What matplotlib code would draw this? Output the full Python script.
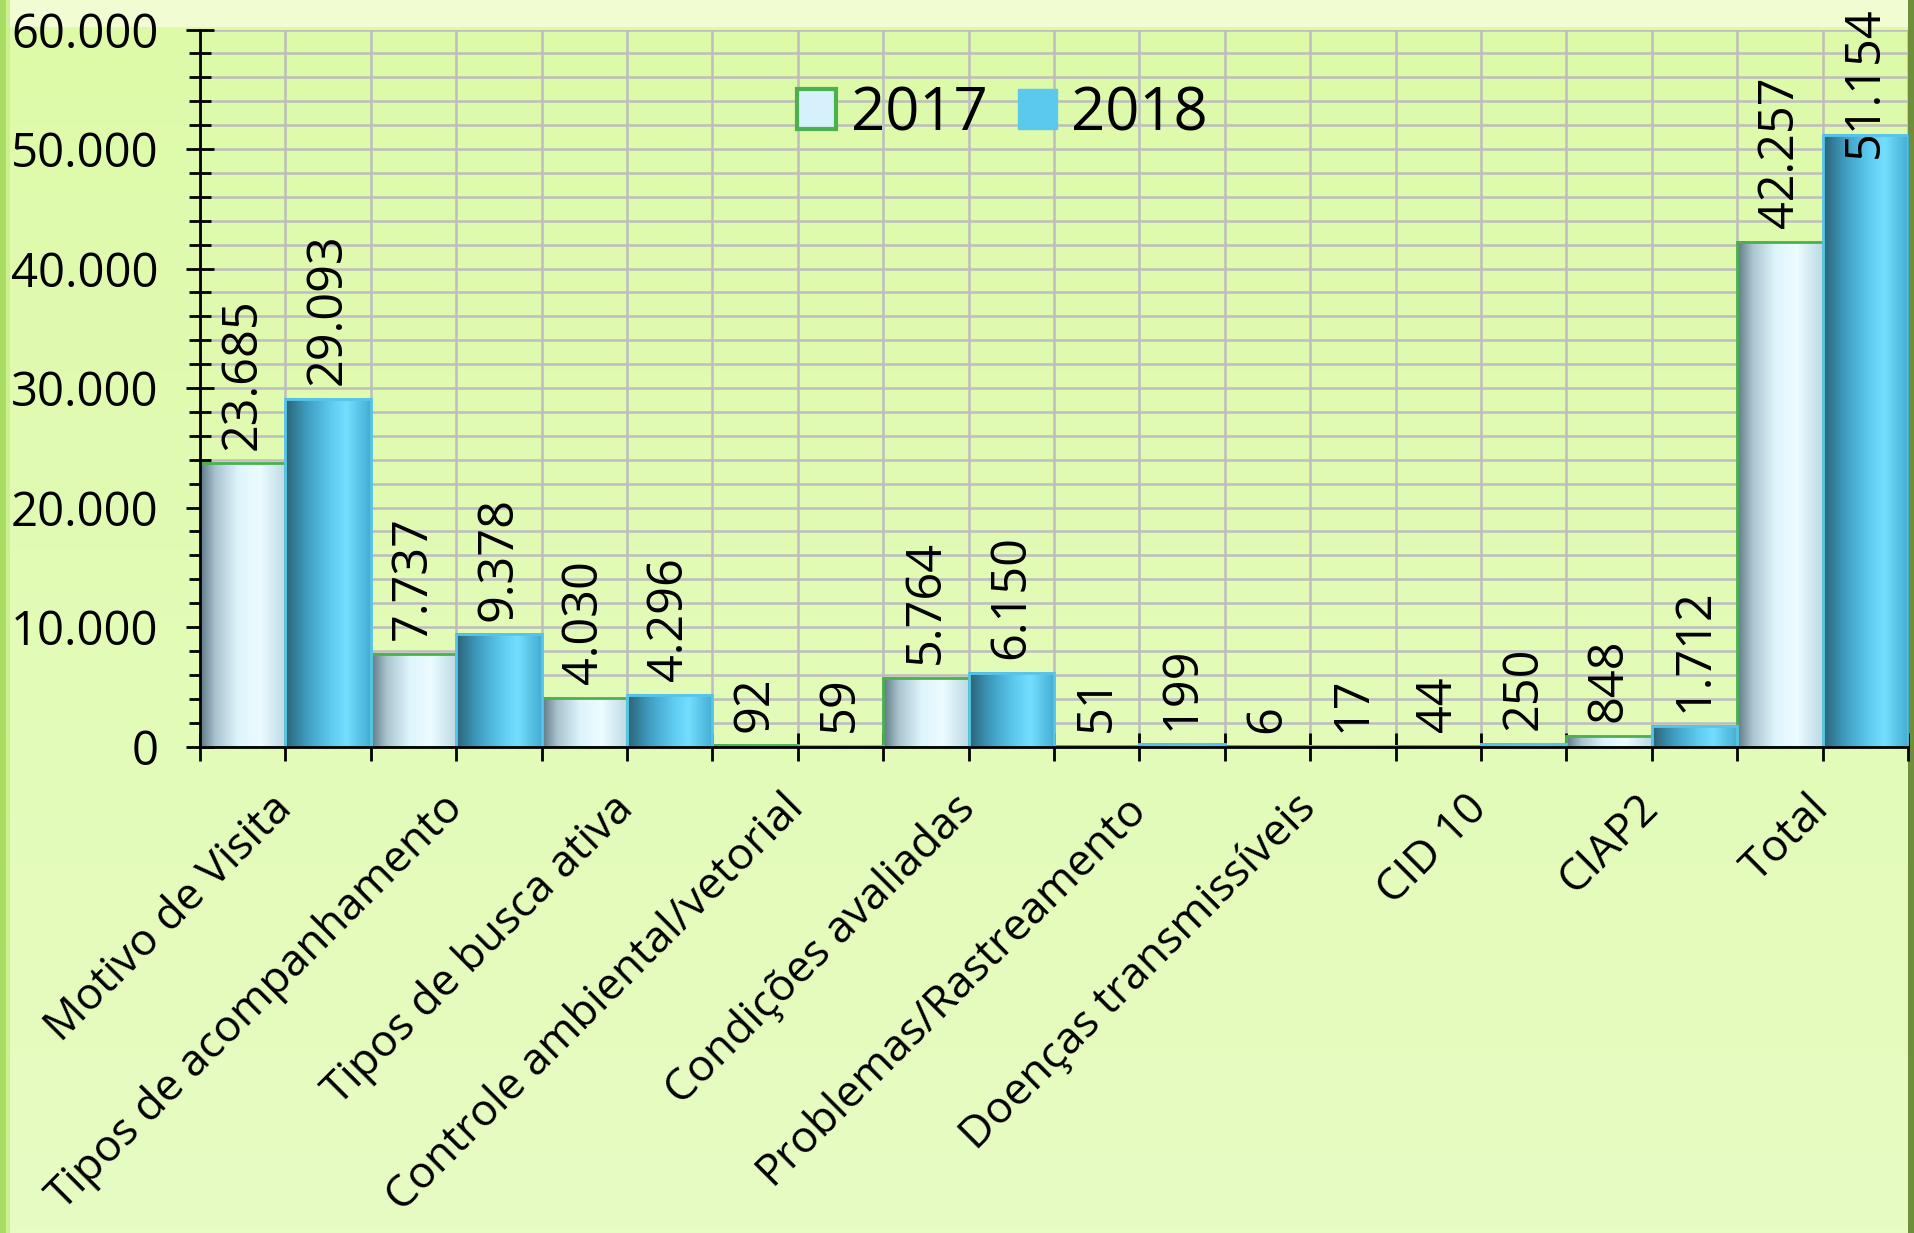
import numpy as np
import matplotlib

matplotlib.use("Agg")
import matplotlib.pyplot as plt
from matplotlib.colors import LinearSegmentedColormap
from matplotlib.patches import Patch, Rectangle

categories = [
    "Motivo de Visita",
    "Tipos de acompanhamento",
    "Tipos de busca ativa",
    "Controle ambiental/vetorial",
    "Condições avaliadas",
    "Problemas/Rastreamento",
    "Doenças transmissíveis",
    "CID 10",
    "CIAP2",
    "Total",
]
values_2017 = [23685, 7737, 4030, 92, 5764, 51, 6, 44, 848, 42257]
values_2018 = [29093, 9378, 4296, 59, 6150, 199, 17, 250, 1712, 51154]
series_names = ["2017", "2018"]

y_max = 60000
y_major = 10000
y_minor = 2000

plt.rcParams["font.family"] = ["Open Sans", "DejaVu Sans"]

cmap_2017 = LinearSegmentedColormap.from_list(
    "c2017",
    [(0.0, "#5d7784"), (0.18, "#a9c4cf"), (0.45, "#def5fc"), (0.7, "#ecfcff"), (1.0, "#bcd9e4")],
)
cmap_2018 = LinearSegmentedColormap.from_list(
    "c2018",
    [(0.0, "#2a6276"), (0.25, "#3f9cc0"), (0.55, "#5fcdf2"), (0.72, "#74defe"), (1.0, "#42acd3")],
)


def fmt(v: float) -> str:
    return f"{int(v):,}".replace(",", ".")


def draw_gradient_bars(ax, xs, vals, cmap, edge):
    grad = np.linspace(0, 1, 256)[np.newaxis, :]
    bars = ax.bar(xs, vals, width=1.0, align="edge", color="none",
                  edgecolor=edge, linewidth=2.0, zorder=4)
    for b in bars:
        x0 = b.get_x()
        h = b.get_height()
        ax.imshow(grad, cmap=cmap, extent=(x0, x0 + 1.0, 0, h),
                  aspect="auto", zorder=3, interpolation="bicubic")
    return bars


fig = plt.figure(figsize=(19.15, 12.33), dpi=100)

# background with a slight vertical gradient and a bevelled frame
bg = fig.add_axes([0, 0, 1, 1], zorder=-10)
bg_cmap = LinearSegmentedColormap.from_list("bg", ["#e7fcc3", "#ddfaa8"])
bg.imshow(np.linspace(0, 1, 256)[:, np.newaxis], cmap=bg_cmap, aspect="auto",
          extent=(0, 1, 0, 1), origin="lower")
bg.add_patch(Rectangle((0, 0.978), 1, 0.022, color="#f1fcd2", lw=0))
bg.add_patch(Rectangle((0, 0), 0.003, 1, color="#a8dc62", lw=0))
bg.add_patch(Rectangle((0.003, 0), 0.002, 1, color="#cdf08e", lw=0))
bg.add_patch(Rectangle((0.9965, 0), 0.0035, 1, color="#6d8f3c", lw=0))
bg.set_xlim(0, 1)
bg.set_ylim(0, 1)
bg.axis("off")

ax = fig.add_axes([200 / 1915, 1 - 746.5 / 1233, 1708 / 1915, 717 / 1233])
ax.set_facecolor("none")

n = len(categories)
x_2017 = np.arange(n) * 2.0
x_2018 = x_2017 + 1.0

draw_gradient_bars(ax, x_2017, values_2017, cmap_2017, "#4caf50")
draw_gradient_bars(ax, x_2018, values_2018, cmap_2018, "#58c4ea")

labels = []
for xs, vals in ((x_2017, values_2017), (x_2018, values_2018)):
    for x, v in zip(xs, vals):
        t = ax.annotate(fmt(v), (x + 0.5, v), xytext=(0, 10), textcoords="offset points",
                        rotation=90, ha="center", va="bottom", fontsize=35,
                        annotation_clip=False, zorder=6)
        labels.append(t)

ax.set_xlim(0, 2 * n)
ax.set_ylim(0, y_max)

ax.set_yticks(np.arange(0, y_max + 1, y_major))
ax.set_yticks(np.arange(0, y_max + 1, y_minor), minor=True)
ax.set_yticklabels([fmt(v) for v in np.arange(0, y_max + 1, y_major)], fontsize=34)

xt = np.arange(0, 2 * n + 1)
ax.set_xticks(xt)
ax.set_xticklabels(["" if i % 2 == 0 else categories[i // 2] for i in xt],
                   rotation=45, ha="right", va="center", rotation_mode="anchor",
                   fontsize=32)

ax.tick_params(axis="y", which="major", direction="inout", length=20, width=2, pad=20)
ax.tick_params(axis="y", which="minor", direction="inout", length=16, width=2)
ax.tick_params(axis="x", which="major", direction="inout", length=20, width=2, pad=30)

ax.grid(True, which="both", axis="y", color="#bdbdbd", linewidth=1.8, zorder=0)
ax.grid(True, which="major", axis="x", color="#bdbdbd", linewidth=1.8, zorder=0)
ax.set_axisbelow(True)

for side in ("top", "right"):
    ax.spines[side].set_visible(False)
for side in ("left", "bottom"):
    ax.spines[side].set_linewidth(2)
    ax.spines[side].set_color("black")
    ax.spines[side].set_zorder(5)

handles = [
    Patch(facecolor="#d6f1fb", edgecolor="#4caf50", linewidth=3),
    Patch(facecolor="#5bc8ee", edgecolor="#5bc8ee", linewidth=1),
]
ax.legend(handles, series_names, loc="center", bbox_to_anchor=(0.47, 0.882),
          ncol=2, frameon=False, fontsize=43, handlelength=0.65, handleheight=0.65,
          handletextpad=0.25, columnspacing=0.5, borderpad=0)

# keep value labels inside the figure, shifting down where they would be cut
fig.canvas.draw()
renderer = fig.canvas.get_renderer()
fig_h = fig.bbox.height
for t in labels:
    bb = t.get_window_extent(renderer)
    over = bb.y1 - (fig_h - 6)
    if over > 0:
        t.set_position((0, 10 - over * 72 / fig.dpi))

fig.savefig("out.png", dpi=100)
